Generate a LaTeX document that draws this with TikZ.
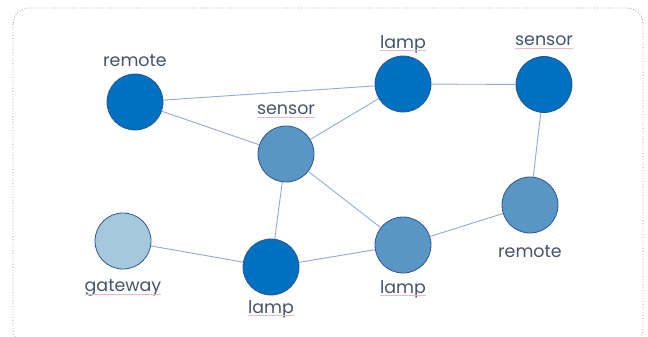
\documentclass[tikz,border=0pt]{standalone}
\usepackage{fontspec}
\setmainfont{Poppins}
\definecolor{darkblue}{HTML}{0070C0}
\definecolor{midblue}{HTML}{5A96C3}
\definecolor{lightblue}{HTML}{A6C8DD}
\definecolor{rimblue}{HTML}{2F5597}
\definecolor{edgeblue}{HTML}{8FAADC}
\definecolor{textslate}{HTML}{44546A}
\definecolor{squiggle}{HTML}{F4B6BE}
\begin{document}
\begin{tikzpicture}[x=1bp,y=-1bp,
  dev/.style={circle,draw=rimblue,line width=0.8bp,minimum size=56bp,inner sep=0pt},
  devdark/.style={dev,fill=darkblue},
  devmid/.style={dev,fill=midblue},
  devlight/.style={dev,fill=lightblue},
  lbl/.style={text=textslate,font=\fontsize{17.5}{20}\selectfont,inner sep=0.5bp},
  link/.style={draw=edgeblue,line width=0.9bp},
  squig/.style={draw=squiggle,line width=0.8bp}]
\useasboundingbox (0,0) rectangle (648,336);
\draw[gray!80,dotted,line width=0.8bp,rounded corners=16bp] (13,8) rectangle (643,345);

\node[devdark]  (remA)  at (135,102) {};
\node[devmid]   (senA)  at (286,154) {};
\node[devdark]  (lampA) at (403,84) {};
\node[devdark]  (senB)  at (544,84.5) {};
\node[devlight] (gate)  at (123,241) {};
\node[devdark]  (lampB) at (271,267) {};
\node[devmid]   (lampC) at (403,245) {};
\node[devmid]   (remB)  at (530,205) {};

\node[lbl] (tremA)  at (135,61) {remote};
\node[lbl] (tsenA)  at (286,110) {sensor};
\node[lbl] (tlampA) at (403,44) {lamp};
\node[lbl] (tsenB)  at (544,41) {sensor};
\node[lbl] (tgate)  at (123,288) {gateway};
\node[lbl] (tlampB) at (271,309) {lamp};
\node[lbl] (tlampC) at (403,289) {lamp};
\node[lbl] (tremB)  at (530,252) {remote};

\foreach \t in {tsenA,tlampA,tsenB,tgate,tlampB,tlampC}
  \draw[squig] ([xshift=1bp,yshift=-2.5bp]\t.base west) -- ([xshift=-1bp,yshift=-2.5bp]\t.base east);

\draw[link] (remA) -- (lampA);
\draw[link] (remA) -- (senA);
\draw[link] (senA) -- (lampA);
\draw[link] (lampA) -- (senB);
\draw[link] (senB) -- (remB);
\draw[link] (senA) -- (lampB);
\draw[link] (senA) -- (lampC);
\draw[link] (gate) -- (lampB);
\draw[link] (lampB) -- (lampC);
\draw[link] (lampC) -- (remB);
\end{tikzpicture}
\end{document}
